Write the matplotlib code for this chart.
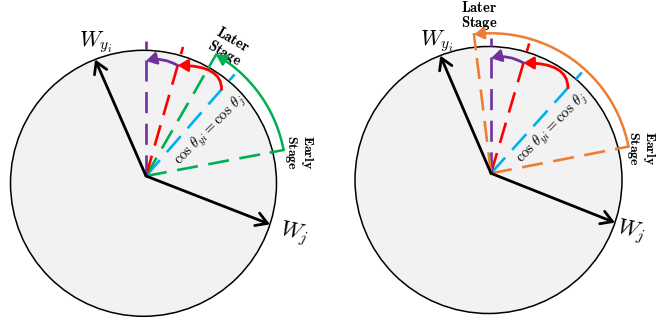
import numpy as np
import matplotlib.pyplot as plt
from matplotlib.patches import Circle, FancyArrowPatch
from matplotlib.path import Path

plt.rcParams['mathtext.fontset'] = 'cm'

PURPLE = '#7030A0'
RED = '#FF0000'
GREEN = '#00B050'
BLUE = '#00B0F0'
ORANGE = '#ED7D31'

# panel geometry (pixel units, y down)
circle_centers = [(143.5, 183.3), (488.5, 180.0)]
circle_radii = [133.0, 133.5]
origins = [(146.0, 176.0), (491.0, 173.3)]

# class weight directions, degrees
w_yi_angles = [113.6, 113.3]
w_j_angles = [-21.3, -21.7]

# dashed feature directions, degrees
left_ray_angles = [10.7, 48.9, 60.0, 74.0, 90.0]
left_ray_colors = [GREEN, BLUE, GREEN, RED, PURPLE]
right_ray_angles = [11.0, 48.0, 73.6, 90.0, 97.0]
right_ray_colors = [ORANGE, BLUE, RED, PURPLE, ORANGE]

# early -> later stage sweep
stage_arcs = [(10.7, 60.0, GREEN), (11.0, 97.0, ORANGE)]
stage_radius = 140.0

# small inner sweeps: (start angle, end angle, colour)
left_sweeps = [(48.9, 74.0, RED), (74.0, 90.0, PURPLE)]
right_sweeps = [(48.0, 73.6, RED), (73.6, 90.0, PURPLE)]
sweep_radius = 115.0

label_pos = {
    'wyi': [(96, 42), (437, 41)],
    'wj': [(294, 233), (631, 231)],
    'cos': [(210, 130), (552, 128)],
    'later': [(228, 47), (479, 16)],
    'early': [(299, 152), (641, 148)],
}
later_rot = [-30, 0]

fig = plt.figure(figsize=(6.57, 3.2), dpi=100)
ax = fig.add_axes([0, 0, 1, 1])
ax.set_xlim(0, 657)
ax.set_ylim(320, 0)
ax.axis('off')


def point(o, ang, r):
    a = np.deg2rad(ang)
    return (o[0] + r * np.cos(a), o[1] - r * np.sin(a))


def to_circle(o, c, R, ang):
    a = np.deg2rad(ang)
    d = np.array([np.cos(a), -np.sin(a)])
    oc = np.array(o) - np.array(c)
    b = d @ oc
    return -b + np.sqrt(b * b - (oc @ oc - R * R))


dash = (0, (8, 4))

for i in range(2):
    c, R, o = circle_centers[i], circle_radii[i], origins[i]
    ax.add_patch(Circle(c, R, facecolor='#F2F2F2', edgecolor='black', lw=1.1, zorder=1))

    angles = left_ray_angles if i == 0 else right_ray_angles
    colors = left_ray_colors if i == 0 else right_ray_colors
    a0, a1, scol = stage_arcs[i]
    for ang, col in zip(angles, colors):
        if ang in (a0, a1):
            r_end = to_circle(o, c, R, ang)
        else:
            r_end = to_circle(o, c, R, ang) + 9
        p = point(o, ang, r_end)
        ax.plot([o[0], p[0]], [o[1], p[1]], color=col, lw=1.9, ls=dash, zorder=3)

    # stage sweep outside the circle
    for ang in (a0, a1):
        r0 = to_circle(o, c, R, ang) - 2
        p, q = point(o, ang, r0), point(o, ang, stage_radius)
        ax.plot([p[0], q[0]], [p[1], q[1]], color=scol, lw=1.8, zorder=3)
    ts = np.linspace(a0, a1, 80)
    verts = [point(o, t, stage_radius) for t in ts]
    ax.add_patch(FancyArrowPatch(path=Path(verts), arrowstyle='-|>,head_length=0.5,head_width=0.3',
                                 mutation_scale=12, color=scol, lw=1.8, zorder=4))

    # inner sweeps
    for s0, s1, col in (left_sweeps if i == 0 else right_sweeps):
        p, q = point(o, s0, sweep_radius), point(o, s1, sweep_radius)
        style = 'angle3,angleA=90,angleB=0' if col == RED else 'arc3,rad=0.2'
        ax.add_patch(FancyArrowPatch(p, q, connectionstyle=style,
                                     arrowstyle='-|>,head_length=0.5,head_width=0.3',
                                     mutation_scale=12, color=col, lw=2.0,
                                     shrinkA=0, shrinkB=0, zorder=5))

    # weight vectors
    for ang in (w_yi_angles[i], w_j_angles[i]):
        tip = point(o, ang, to_circle(o, c, R, ang))
        ax.add_patch(FancyArrowPatch(o, tip, arrowstyle='->,head_length=0.5,head_width=0.3',
                                     mutation_scale=16, color='black', lw=2.0,
                                     shrinkA=0, shrinkB=0, zorder=6))

    ax.text(*label_pos['wyi'][i], r'$W_{y_i}$', fontsize=16, ha='center', va='center')
    ax.text(*label_pos['wj'][i], r'$W_j$', fontsize=16, ha='center', va='center', rotation=-12)
    ax.text(*label_pos['cos'][i], r'$\cos\,\theta_{yi} = \cos\,\theta_j$', fontsize=10.5,
            ha='center', va='center', rotation=45, rotation_mode='anchor')
    ax.text(*label_pos['later'][i], '$\\mathbf{Later}$\n$\\mathbf{Stage}$', fontsize=10.5,
            ha='center', va='center', rotation=later_rot[i], multialignment='center',
            linespacing=1.0)
    ax.text(*label_pos['early'][i], '$\\mathbf{Early}$\n$\\mathbf{Stage}$', fontsize=10,
            ha='center', va='center', rotation=-90, multialignment='center',
            linespacing=0.95)

fig.savefig('out.png', dpi=100)
